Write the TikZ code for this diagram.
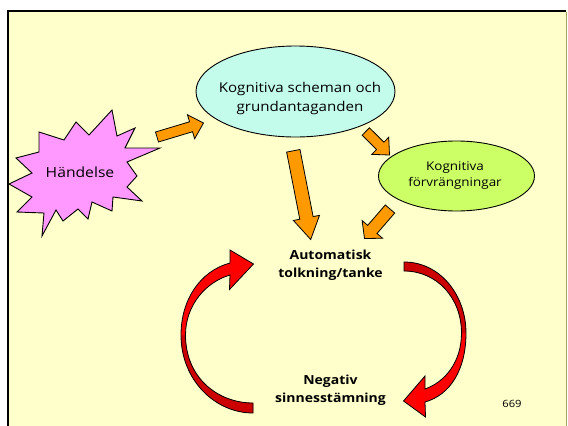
\documentclass[tikz,border=0pt]{standalone}
\usepackage{fontspec}
\setmainfont{Open Sans}
\newfontfamily\comicf[FakeStretch=1.12]{Open Sans}
\usetikzlibrary{calc,shapes.geometric}
\definecolor{bgyel}{HTML}{FFFFCC}
\definecolor{cyanfill}{HTML}{C4FCEC}
\definecolor{greenfill}{HTML}{CCFF66}
\definecolor{pinkfill}{HTML}{FF99FF}
\definecolor{orangefill}{HTML}{FF9900}
\definecolor{redbright}{HTML}{FF0000}
\definecolor{reddark}{HTML}{CC0000}
\tikzset{
  ellbox/.style={ellipse, draw=black, line width=0.9pt, inner sep=0pt},
  txt/.style={align=center, font=\comicf\fontsize{13.5}{19}\selectfont, inner sep=0pt},
  smalltxt/.style={align=center, font=\comicf\fontsize{12}{16.5}\selectfont, inner sep=0pt},
  boldtxt/.style={align=center, font=\comicf\bfseries\fontsize{12.5}{17.5}\selectfont, inner sep=0pt},
  orangearrow/.style={fill=orangefill, draw=black, line width=0.8pt, line join=miter},
  redarrow/.style={draw=black, line width=0.8pt, line join=miter},
}
\newcommand{\blockarr}[5]{%
  \coordinate (ba-h) at ($(#2)!#5!(#1)$);
  \draw[orangearrow] ($(#1)!#3!90:(#2)$) -- ($(ba-h)!#3!90:(#2)$) -- ($(ba-h)!#4!90:(#2)$)
    -- (#2) -- ($(ba-h)!#4!-90:(#2)$) -- ($(ba-h)!#3!-90:(#2)$) -- ($(#1)!#3!-90:(#2)$) -- cycle;}
\begin{document}
\begin{tikzpicture}[x=1pt,y=-1pt]
\useasboundingbox (0,0) rectangle (568,426);
\fill[white] (0,0) rectangle (568,426);
\fill[bgyel] (8,11) rectangle (566.5,426);
\draw[line width=2.6pt] (8,430) -- (8,11) -- (566,11);
\draw[line width=0.6pt, color=black!35!olive!60] (566.7,12) -- (566.7,430);

% star
\draw[fill=pinkfill, line width=0.9pt, line join=miter]
 (112,110) -- (117,136) -- (135,128) -- (125,148) -- (160,148) -- (127,162)
 -- (137,176) -- (127,187) -- (142,201) -- (113,197) -- (112,211) -- (92,202)
 -- (88,219) -- (78,209) -- (63,221) -- (56,210) -- (42,236) -- (44,213)
 -- (17,212) -- (32,197) -- (9,184) -- (32,173) -- (16,158) -- (39,152)
 -- (39,132) -- (64,140) -- (76,122) -- (89,135) -- cycle;
\node[txt, font=\comicf\fontsize{14}{19}\selectfont] (event) at (80,172) {Händelse};

% ellipses
\node[ellbox, fill=cyanfill, minimum width=199pt, minimum height=91pt] (schema) at (295.5,91.5) {};
\node[txt] (schematxt) at (300,98) {Kognitiva scheman och\\grundantaganden};
\node[ellbox, fill=greenfill, minimum width=156pt, minimum height=70pt] (distort) at (456.5,176) {};
\node[smalltxt] (distorttxt) at (455,175.5) {Kognitiva\\förvrängningar};

% center texts
\node[boldtxt] (auto) at (330.5,265) {Automatisk\\tolkning/tanke};
\node[boldtxt] (mood) at (330.5,390) {Negativ\\sinnesstämning};
\node[font=\comicf\fontsize{10}{12}\selectfont, inner sep=0pt] (pagenum) at (512,404) {669};

% orange block arrows
\coordinate (a1s) at (157,137); \coordinate (a1e) at (203.5,123);
\coordinate (a2s) at (365.8,131.5); \coordinate (a2e) at (389.5,155);
\coordinate (a3s) at (293.3,150.8); \coordinate (a3e) at (310.7,239.5);
\coordinate (a4s) at (390,209); \coordinate (a4e) at (364.5,238.5);
\blockarr{a1s}{a1e}{5.2pt}{12.5pt}{13pt}
\blockarr{a2s}{a2e}{5.2pt}{12pt}{13pt}
\blockarr{a3s}{a3e}{6.8pt}{13.3pt}{22pt}
\blockarr{a4s}{a4e}{6.2pt}{13.5pt}{12pt}

% left red curved arrow (mood -> auto)
\fill[redbright] (253,413) .. controls (215,413) and (181,380) .. (181,335)
  .. controls (181,300) and (200,271) .. (230,263) -- (230,250) -- (253.5,264)
  -- (229.5,289.5) -- (230,275) .. controls (206,282) and (185.5,305) .. (185.5,335)
  .. controls (185.5,378) and (218,403) .. (253,403) -- cycle;
\fill[reddark] (253,413) .. controls (215,413) and (181,380) .. (181,335)
  -- (185.5,335) .. controls (185.5,378) and (218,403) .. (253,403) -- cycle;
\draw[redarrow] (253,413) .. controls (215,413) and (181,380) .. (181,335)
  .. controls (181,300) and (200,271) .. (230,263) -- (230,250) -- (253.5,264)
  -- (229.5,289.5) -- (230,275) .. controls (206,282) and (185.5,305) .. (185.5,335)
  .. controls (185.5,378) and (218,403) .. (253,403) -- cycle;

% right red curved arrow (auto -> mood)
\fill[redbright] (404,262) .. controls (440,262) and (466,295) .. (466,333)
  .. controls (466,370) and (450,395) .. (425,402) -- (425.5,417) -- (403.5,401)
  -- (425,376) -- (425,389) .. controls (445,382) and (461.5,362) .. (461.5,333)
  .. controls (461.5,298) and (437,271) .. (404,271) -- cycle;
\fill[reddark] (404,262) .. controls (440,262) and (466,295) .. (466,333)
  -- (461.5,333) .. controls (461.5,298) and (437,271) .. (404,271) -- cycle;
\draw[redarrow] (404,262) .. controls (440,262) and (466,295) .. (466,333)
  .. controls (466,370) and (450,395) .. (425,402) -- (425.5,417) -- (403.5,401)
  -- (425,376) -- (425,389) .. controls (445,382) and (461.5,362) .. (461.5,333)
  .. controls (461.5,298) and (437,271) .. (404,271) -- cycle;
\end{tikzpicture}
\end{document}
